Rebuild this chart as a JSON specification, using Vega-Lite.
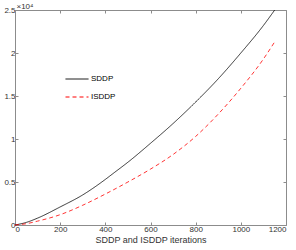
{
  "$schema": "https://vega.github.io/schema/vega-lite/v6.json",
  "autosize": "none",
  "width": 271,
  "height": 215,
  "padding": {"left": 15, "top": 10, "right": 10, "bottom": 25},
  "background": "white",
  "config": {
    "font": "Liberation Sans",
    "view": {"stroke": null},
    "axis": {"grid": false, "domainColor": "#8c8c8c", "tickColor": "#8c8c8c", "labelColor": "#333333", "titleColor": "#333333", "labelFont": "Liberation Sans", "titleFont": "Liberation Sans", "labelFontSize": 8, "titleFontSize": 9, "titleFontWeight": "normal", "tickSize": -3, "domainWidth": 1, "tickWidth": 1}
  },
  "data": {
    "values": [
      {"it": 0, "v": 0, "s": "SDDP"},
      {"it": 50, "v": 300, "s": "SDDP"},
      {"it": 100, "v": 800, "s": "SDDP"},
      {"it": 200, "v": 2100, "s": "SDDP"},
      {"it": 300, "v": 3500, "s": "SDDP"},
      {"it": 400, "v": 5300, "s": "SDDP"},
      {"it": 440, "v": 6100, "s": "SDDP"},
      {"it": 500, "v": 7300, "s": "SDDP"},
      {"it": 600, "v": 9500, "s": "SDDP"},
      {"it": 700, "v": 11800, "s": "SDDP"},
      {"it": 800, "v": 14300, "s": "SDDP"},
      {"it": 900, "v": 17000, "s": "SDDP"},
      {"it": 1000, "v": 20000, "s": "SDDP"},
      {"it": 1100, "v": 23200, "s": "SDDP"},
      {"it": 1150, "v": 25000, "s": "SDDP"},
      {"it": 0, "v": 0, "s": "ISDDP"},
      {"it": 50, "v": 150, "s": "ISDDP"},
      {"it": 100, "v": 450, "s": "ISDDP"},
      {"it": 200, "v": 1200, "s": "ISDDP"},
      {"it": 300, "v": 2300, "s": "ISDDP"},
      {"it": 400, "v": 3600, "s": "ISDDP"},
      {"it": 500, "v": 5000, "s": "ISDDP"},
      {"it": 600, "v": 6500, "s": "ISDDP"},
      {"it": 700, "v": 8200, "s": "ISDDP"},
      {"it": 800, "v": 10300, "s": "ISDDP"},
      {"it": 900, "v": 12900, "s": "ISDDP"},
      {"it": 1000, "v": 15900, "s": "ISDDP"},
      {"it": 1100, "v": 19300, "s": "ISDDP"},
      {"it": 1150, "v": 21300, "s": "ISDDP"}
    ]
  },
  "layer": [
    {
      "mark": {"type": "line", "strokeWidth": 0.8, "interpolate": "monotone"},
      "encoding": {
        "x": {"field": "it", "type": "quantitative", "scale": {"domain": [0, 1200], "nice": false}, "axis": {"title": "SDDP and ISDDP iterations", "values": [0, 200, 400, 600, 800, 1000, 1200], "format": "d", "titlePadding": 2, "labelPadding": 3}},
        "y": {"field": "v", "type": "quantitative", "scale": {"domain": [0, 25000], "nice": false}, "axis": {"title": "×10⁴", "titleAngle": 0, "titleAlign": "left", "titleBaseline": "alphabetic", "titleX": 1, "titleY": -2, "titleFontSize": 8, "values": [0, 5000, 10000, 15000, 20000, 25000], "labelExpr": "toString(datum.value/10000)", "labelPadding": 3}},
        "color": {"field": "s", "type": "nominal", "scale": {"domain": ["SDDP", "ISDDP"], "range": ["#000000", "#ff0000"]}, "legend": {"title": null, "orient": "none", "legendX": 50, "legendY": 57, "symbolType": "stroke", "symbolSize": 529, "symbolStrokeWidth": 1, "labelFontSize": 8, "labelColor": "#000000", "rowPadding": 2, "labelOffset": 2, "padding": 0}},
        "strokeDash": {"field": "s", "type": "nominal", "scale": {"domain": ["SDDP", "ISDDP"], "range": [[1, 0], [4, 3]]}, "legend": null}
      }
    },
    {
      "mark": {"type": "line", "opacity": 0},
      "encoding": {
        "x": {"field": "it", "type": "quantitative", "scale": {"domain": [0, 1200], "nice": false}, "axis": {"orient": "top", "title": null, "labels": false, "values": [0, 200, 400, 600, 800, 1000, 1200]}},
        "y": {"field": "v", "type": "quantitative", "scale": {"domain": [0, 25000], "nice": false}, "axis": {"orient": "right", "title": null, "labels": false, "values": [0, 5000, 10000, 15000, 20000, 25000]}},
        "detail": {"field": "s"}
      }
    }
  ],
  "resolve": {"axis": {"x": "independent", "y": "independent"}}
}
